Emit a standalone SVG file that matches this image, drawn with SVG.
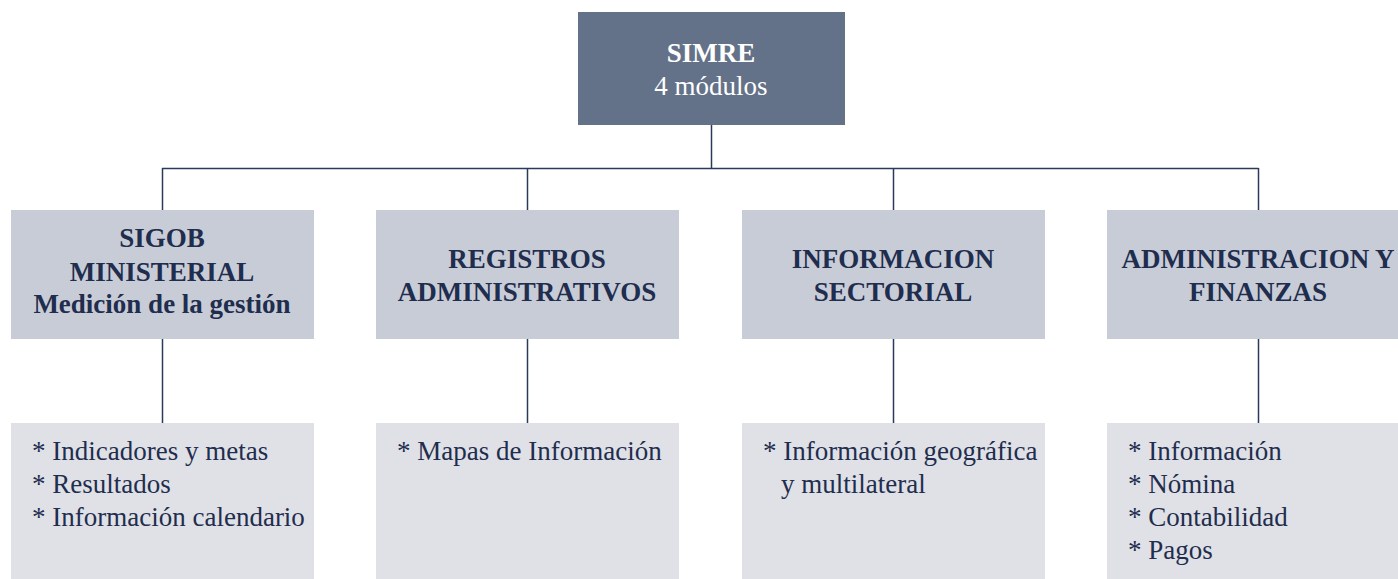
<svg xmlns="http://www.w3.org/2000/svg" width="1398" height="579" viewBox="0 0 1398 579">
<style>
.top{fill:#637289}
.mid{fill:#c8ccd6}
.bot{fill:#dfe1e6}
.conn{stroke:#2b3a5a;stroke-width:1.5;fill:none}
text{font-family:'Liberation Serif',serif;font-size:27px;fill:#1f2d4e}
.h{font-weight:bold;text-anchor:middle}
.w{fill:#ffffff;text-anchor:middle}
</style>
<rect width="1398" height="579" fill="#ffffff"/>
<g id="connectors">
<path class="conn" d="M711.5 125V168.5M162 168.5H1258.5M162.5 168V210M527.5 168V210M893.5 168V210M1258.5 168V210M162.5 339V423M527.5 339V423M893.5 339V423M1258.5 339V423"/>
</g>
<g id="simre">
<rect class="top" x="578" y="12" width="267" height="113"/>
<text class="w" x="711" y="62" font-weight="bold">SIMRE</text>
<text class="w" x="711" y="95">4 módulos</text>
</g>
<g id="sigob">
<rect class="mid" x="11" y="210" width="303" height="129"/>
<text class="h" x="162" y="247">SIGOB</text>
<text class="h" x="162" y="281">MINISTERIAL</text>
<text class="h" x="162" y="313">Medición de la gestión</text>
</g>
<g id="registros">
<rect class="mid" x="376" y="210" width="303" height="129"/>
<text class="h" x="527" y="268">REGISTROS</text>
<text class="h" x="527" y="301">ADMINISTRATIVOS</text>
</g>
<g id="informacion">
<rect class="mid" x="742" y="210" width="303" height="129"/>
<text class="h" x="893" y="268">INFORMACION</text>
<text class="h" x="893" y="301">SECTORIAL</text>
</g>
<g id="administracion">
<rect class="mid" x="1107" y="210" width="303" height="129"/>
<text class="h" x="1258" y="268">ADMINISTRACION Y</text>
<text class="h" x="1258" y="301">FINANZAS</text>
</g>
<g id="sigob-items">
<rect class="bot" x="11" y="423" width="303" height="160"/>
<text x="32" y="460">* Indicadores y metas</text>
<text x="32" y="493">* Resultados</text>
<text x="32" y="526">* Información calendario</text>
</g>
<g id="registros-items">
<rect class="bot" x="376" y="423" width="303" height="160"/>
<text x="397" y="460">* Mapas de Información</text>
</g>
<g id="informacion-items">
<rect class="bot" x="742" y="423" width="303" height="160"/>
<text x="763" y="460">* Información geográfica</text>
<text x="781" y="493">y multilateral</text>
</g>
<g id="administracion-items">
<rect class="bot" x="1107" y="423" width="303" height="160"/>
<text x="1128" y="460">* Información</text>
<text x="1128" y="493">* Nómina</text>
<text x="1128" y="526">* Contabilidad</text>
<text x="1128" y="559">* Pagos</text>
</g>
</svg>
